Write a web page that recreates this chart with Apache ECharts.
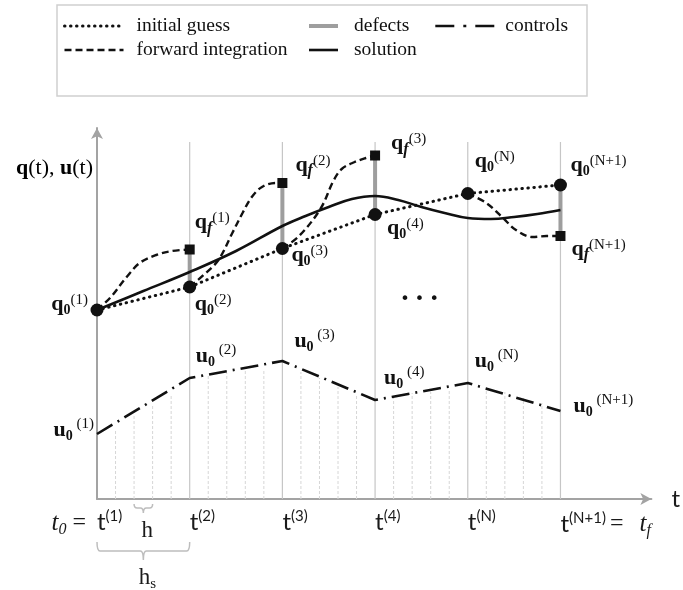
<!DOCTYPE html>
<html>
<head>
<meta charset="utf-8">
<script src="https://cdn.jsdelivr.net/npm/echarts@6/dist/echarts.min.js"></script>
<style>
  html, body { margin: 0; padding: 0; background: #fff; }
  #chart { width: 683px; height: 590px; }
</style>
</head>
<body>
<div id="chart"></div>
<script>
// ---- shooting grid ----
const nodeTimes  = [0, 1, 2, 3, 4, 5];
const nodeLabels = ['1', '2', '3', '4', 'N', 'N+1'];
const gridTop = 357;                       // height of the node lines

// ---- states: initial guess at nodes, end points of forward integration ----
const q0Values  = [189, 212, 250.5, 284.5, 305.5, 314];
const qfTimes   = [1, 2, 3, 5];
const qfValues  = [249.5, 316, 343.5, 263];
const qfLabels  = ['1', '2', '3', 'N+1'];

// forward integration arcs (one per shooting interval shown)
const fwd1T = [0, 0.14, 0.32, 0.46, 0.64, 0.81, 1];
const fwd1V = [189, 201, 222, 236, 244, 248, 249.5];
const fwd2T = [1, 1.15, 1.31, 1.46, 1.57, 1.67, 1.78, 1.93, 2];
const fwd2V = [212, 224, 239, 266, 286, 302, 312, 316, 316];
const fwd3T = [2, 2.18, 2.41, 2.55, 2.64, 2.78, 2.9, 3];
const fwd3V = [250.5, 263, 290, 318, 330, 337, 341, 343.5];
const fwd4T = [4, 4.2, 4.38, 4.52, 4.7, 4.85, 5];
const fwd4V = [305.5, 296, 281, 269, 262, 263, 263];

// converged solution
const solT = [0, 0.5, 1, 1.5, 2, 2.25, 2.5, 2.75, 3, 3.25, 3.5, 3.75, 4, 4.25, 4.5, 4.75, 5];
const solV = [189, 208, 227, 248, 273, 283, 292, 300, 303, 299, 292, 286, 281, 280, 282, 285, 289];

// piecewise linear controls at the nodes
const uValues = [65, 121, 138, 99, 116, 88];

// integrator sub-steps h inside each shooting interval
const subTimes = [0.2, 0.4, 0.6, 0.8, 1.2, 1.4, 1.6, 1.8, 2.2, 2.4, 2.6, 2.8,
                  3.2, 3.4, 3.6, 3.8, 4.2, 4.4, 4.6, 4.8];
const subTops  = [70, 85, 93, 104, 123, 126, 128, 130, 127, 121, 112, 105,
                  102, 106, 107, 110, 112, 107, 101, 96];

// braces for h and h_s
const braceFrom  = [0.4, 0];
const braceTo    = [0.6, 1];
const braceNames = ['h', 'hs'];

// ---- layout / style ----
const SERIF = '"Liberation Serif", "DejaVu Serif", serif';
const SANS  = 'Lato, "Open Sans", sans-serif';
const INK = '#111';
const GRID_GREY = '#c6c6c6';
const AXIS_GREY = '#a3a3a3';
const CLEAR = 'rgba(0,0,0,0)';

const q0LabelOffsets = [[-9, -6], [5, 17], [9, 7], [12, 14], [7, -32], [10, -20]];
const q0LabelAlign   = ['right', 'left', 'left', 'left', 'left', 'left'];
const qfLabelOffsets = [[5, -27], [13, -18], [16, -12], [11, 13]];
const uLabelOffsets  = [[-3, -4], [6, -22], [12, -20], [9, -22], [7, -22], [13, -5]];
const uLabelAlign    = ['right', 'left', 'left', 'left', 'left', 'left'];
const braceDepth = [[5, 9, 14], [43, 52, 61]];   // px below the time axis: end, bar, tip

const rich = {
  b:    { fontFamily: SERIF, fontWeight: 'bold', fontSize: 22, color: INK },
  n:    { fontFamily: SERIF, fontSize: 22, color: INK },
  sub:  { fontFamily: SERIF, fontWeight: 'bold', fontSize: 14, color: INK, padding: [12, 0, 0, 0] },
  fsub: { fontFamily: SERIF, fontWeight: 'bold', fontStyle: 'italic', fontSize: 16, color: INK, padding: [12, 0, 0, 0] },
  sup:  { fontFamily: SERIF, fontSize: 15, color: INK, padding: [0, 0, 8, 0] },
  usup: { fontFamily: SERIF, fontSize: 15, color: INK, padding: [0, 0, 12, 0] },
  t:    { fontFamily: SANS, fontSize: 24, color: '#1a1a1a' },
  ts:   { fontFamily: SANS, fontSize: 15, color: '#1a1a1a', padding: [0, 0, 12, 0] },
  eq:   { fontFamily: SERIF, fontSize: 24, color: '#1a1a1a', padding: [0, 16, 0, 4] },
  eq0:  { fontFamily: SERIF, fontSize: 24, color: '#1a1a1a', padding: [0, 8, 0, 6] },
  it:   { fontFamily: SERIF, fontStyle: 'italic', fontSize: 25, color: '#1a1a1a' },
  itf:  { fontFamily: SERIF, fontStyle: 'italic', fontSize: 16, color: '#1a1a1a', padding: [14, 0, 0, 0] },
  dots: { fontFamily: '"DejaVu Sans"', fontSize: 16, color: INK }
};

const pairs = (ts, vs) => ts.map((t, i) => [t, vs[i]]);

function lineSeries(name, data, style, extra) {
  return Object.assign({
    type: 'line', name, data, symbol: 'none', silent: true, z: 3,
    itemStyle: { color: INK },
    lineStyle: style, emphasis: { disabled: true }, animation: false
  }, extra || {});
}

const chart = echarts.init(document.getElementById('chart'), null, { renderer: 'canvas' });

// node grid lines and integrator sub-step lines
const nodeLineData = nodeTimes.slice(1).map(t => [t, 0, gridTop]);
const subLineData  = subTimes.map((t, i) => [t, 0, subTops[i]]);

function vSegment(color, width, dash) {
  return function (params, api) {
    const a = api.coord([api.value(0), api.value(1)]);
    const b = api.coord([api.value(0), api.value(2)]);
    return { type: 'line', shape: { x1: a[0], y1: a[1], x2: b[0], y2: b[1] },
             style: { stroke: color, lineWidth: width, lineDash: dash } };
  };
}

function braceRenderer(params, api) {
  const i = params.dataIndex;
  const x0 = api.coord([api.value(0), 0])[0];
  const x1 = api.coord([api.value(1), 0])[0];
  const base = api.coord([0, 0])[1];
  const [dEnd, dBar, dTip] = braceDepth[i];
  const yE = base + dEnd, yB = base + dBar, yT = base + dTip;
  const xc = (x0 + x1) / 2, r = 3;
  const path = `M${x0},${yE} Q${x0},${yB} ${x0 + r},${yB} L${xc - r},${yB} Q${xc},${yB} ${xc},${yT}` +
               ` M${xc},${yT} Q${xc},${yB} ${xc + r},${yB} L${x1 - r},${yB} Q${x1},${yB} ${x1},${yE}`;
  const name = braceNames[i];
  const text = name.length > 1 ? `{h|${name[0]}}{s|${name.slice(1)}}` : `{h|${name}}`;
  return {
    type: 'group',
    children: [
      { type: 'path', shape: { pathData: path }, style: { stroke: '#bdbdbd', lineWidth: 1.5, fill: null } },
      { type: 'text', x: xc + 4, y: yT + 18, style: {
          text, align: 'center', verticalAlign: 'middle',
          rich: { h: { fontFamily: SERIF, fontSize: 23, fill: '#1a1a1a' },
                  s: { fontFamily: SERIF, fontSize: 15, fill: '#1a1a1a', padding: [12, 0, 0, 0] } } } }
    ]
  };
}

const defectSeries = qfTimes.map((t, i) => lineSeries('defects',
  [[t, q0Values[nodeTimes.indexOf(t)]], [t, qfValues[i]]],
  { color: '#9e9e9e', width: 4 }, { z: 2, itemStyle: { color: '#9e9e9e' } }));

const fwdStyle = { color: INK, width: 2.4, type: [7, 4] };
const fwdSeries = [[fwd1T, fwd1V], [fwd2T, fwd2V], [fwd3T, fwd3V], [fwd4T, fwd4V]]
  .map(([ts, vs]) => lineSeries('forward integration', pairs(ts, vs), fwdStyle, { smooth: 0.35 }));

// legend shows only the line samples
const legendBase = {
  orient: 'vertical', top: 14, itemHeight: 14, itemGap: 0, padding: 0, selectedMode: false,
  itemStyle: { color: CLEAR, borderColor: CLEAR, borderWidth: 0, opacity: 0 },
  lineStyle: { width: 'inherit' }
};
const legendText = pad => ({ fontFamily: SERIF, fontSize: 19.5, color: INK, lineHeight: 24, padding: [0, 0, 0, pad] });

// plain text labels, no automatic contrast stroke
const plainLabel = { show: true, position: 'inside', verticalAlign: 'middle', color: INK,
                     textBorderWidth: 0, textBorderColor: CLEAR, opacity: 1, rich };

const option = {
  backgroundColor: '#fff',
  animation: false,
  grid: { left: 97, right: 25, top: 128, bottom: 91 },
  xAxis: {
    type: 'value', min: 0, max: 5.981, interval: 1,
    name: 't', nameLocation: 'end', nameGap: 20,
    nameTextStyle: { fontFamily: SANS, fontSize: 24, color: '#1a1a1a', align: 'left', verticalAlign: 'middle' },
    axisLine: { lineStyle: { color: AXIS_GREY, width: 2 }, symbol: ['none', 'arrow'], symbolSize: [9, 11] },
    axisTick: { show: false },
    splitLine: { show: false },
    axisLabel: {
      margin: 10, align: 'left', rich,
      formatter: v => {
        const i = nodeTimes.findIndex(t => Math.abs(t - v) < 1e-6);
        if (i < 0) return '';
        let s = `{t|t}{ts|(${nodeLabels[i]})}`;
        if (i === nodeTimes.length - 1) s += '{eq|=}{it|t}{itf|f}';
        return s;
      }
    }
  },
  yAxis: {
    type: 'value', min: 0, max: 371,
    axisLine: { show: true, lineStyle: { color: AXIS_GREY, width: 2 }, symbol: ['none', 'arrow'], symbolSize: [9, 11] },
    axisTick: { show: false }, axisLabel: { show: false }, splitLine: { show: false }
  },
  legend: [
    Object.assign({}, legendBase, { data: ['initial guess', 'forward integration'], left: 63,
      itemWidth: 59, textStyle: legendText(8) }),
    Object.assign({}, legendBase, { data: ['defects', 'solution'], left: 307,
      itemWidth: 29, textStyle: legendText(11) }),
    Object.assign({}, legendBase, { data: ['controls'], left: 434,
      itemWidth: 59, textStyle: legendText(6),
      lineStyle: { width: 'inherit', type: [19, 9, 3, 9] } })
  ],
  graphic: [
    { type: 'rect', shape: { x: 57, y: 5, width: 530, height: 91 },
      style: { fill: null, stroke: '#d0d0d0', lineWidth: 1.5 }, silent: true },
    { type: 'text', x: 93, y: 168, silent: true,
      style: { text: '{b|q}{n|(t), }{b|u}{n|(t)}', align: 'right', verticalAlign: 'middle', rich } }
  ],
  series: [
    { type: 'custom', name: 'nodes', data: nodeLineData, renderItem: vSegment(GRID_GREY, 1.2, null),
      encode: { x: 0, y: [1, 2] }, silent: true, z: 1 },
    { type: 'custom', name: 'steps', data: subLineData, renderItem: vSegment('#d6d6d6', 1, [3, 2]),
      encode: { x: 0, y: [1, 2] }, silent: true, z: 1 },
    { type: 'custom', name: 'braces', data: braceFrom.map((a, i) => [a, braceTo[i]]),
      renderItem: braceRenderer, encode: { x: [0, 1] }, silent: true, clip: false, z: 1 },
    ...defectSeries,
    lineSeries('initial guess', pairs(nodeTimes, q0Values),
      { color: INK, width: 3, type: [0.5, 5.5], cap: 'round' }),
    ...fwdSeries,
    lineSeries('solution', pairs(solT, solV), { color: INK, width: 2.6 }, { smooth: 0.4 }),
    lineSeries('controls', pairs(nodeTimes, uValues), { color: INK, width: 2.6, type: [18, 6, 2, 6] }),
    {
      type: 'scatter', name: 'q0', symbol: 'circle', symbolSize: 13, silent: true, z: 5,
      itemStyle: { color: INK, opacity: 1 },
      data: q0Values.map((v, i) => ({
        value: [nodeTimes[i], v],
        label: { offset: q0LabelOffsets[i], align: q0LabelAlign[i] }
      })),
      label: Object.assign({}, plainLabel, {
        formatter: p => `{b|q}{sub|0}{sup|(${nodeLabels[p.dataIndex]})}`
      })
    },
    {
      type: 'scatter', name: 'qf', symbol: 'rect', symbolSize: 10, silent: true, z: 5,
      itemStyle: { color: INK, opacity: 1 },
      data: qfValues.map((v, i) => ({ value: [qfTimes[i], v], label: { offset: qfLabelOffsets[i] } })),
      label: Object.assign({}, plainLabel, { align: 'left',
        formatter: p => `{b|q}{fsub|f}{sup|(${qfLabels[p.dataIndex]})}`
      })
    },
    {
      type: 'scatter', name: 'u0', symbol: 'circle', symbolSize: 2, silent: true, z: 5,
      itemStyle: { color: CLEAR },
      data: uValues.map((v, i) => ({
        value: [nodeTimes[i], v],
        label: { offset: uLabelOffsets[i], align: uLabelAlign[i] }
      })),
      label: Object.assign({}, plainLabel, {
        formatter: p => `{b|u}{sub|0}{usup| (${nodeLabels[p.dataIndex]})}`
      })
    },
    {
      type: 'scatter', name: 'notes', symbol: 'circle', symbolSize: 2, silent: true, z: 5, clip: false,
      itemStyle: { color: CLEAR },
      data: [
        { value: [0, 0], label: { formatter: '{it|t}{itf|0}{eq0|=}', align: 'right', offset: [-3, 24] } },
        { value: [3.48, 199], label: { formatter: '{dots|• • •}', align: 'center', offset: [0, 0] } }
      ],
      label: plainLabel
    }
  ]
};

chart.setOption(option);
</script>
</body>
</html>
